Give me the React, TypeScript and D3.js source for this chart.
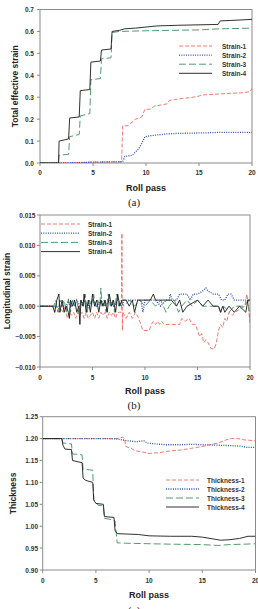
import React from "react";
import * as d3 from "d3";

type Pt = [number, number];

// ---- (a) total effective strain vs roll pass ----
const strainTotal1: Pt[] = [[0,0],[3,0],[5,0.004],[7,0.005],[7.7,0.005],[7.8,0.17],[8.3,0.17],[8.5,0.18],[8.8,0.19],[9.0,0.2],[9.4,0.205],[9.6,0.21],[9.9,0.245],[10.4,0.245],[10.8,0.26],[11.5,0.265],[12,0.27],[12.2,0.285],[12.8,0.29],[13.5,0.295],[14.2,0.298],[15,0.305],[15.2,0.31],[16,0.312],[17,0.315],[18,0.318],[19,0.32],[19.8,0.325],[20,0.34]];
const strainTotal2: Pt[] = [[0,0],[3,0.001],[5,0.004],[7,0.005],[7.8,0.006],[8,0.03],[8.7,0.035],[9.0,0.05],[9.3,0.065],[9.6,0.09],[9.9,0.12],[10.5,0.125],[11.5,0.13],[12,0.133],[13,0.135],[15,0.137],[16,0.138],[17,0.14],[20,0.14]];
const strainTotal3: Pt[] = [[0,0],[1.75,0],[1.8,0.035],[2.7,0.04],[2.8,0.12],[3.7,0.13],[3.8,0.215],[4.7,0.225],[4.8,0.38],[5.7,0.385],[5.8,0.475],[6.7,0.48],[6.8,0.595],[7.5,0.6],[10,0.603],[15,0.607],[17,0.612],[20,0.615]];
const strainTotal4: Pt[] = [[0,0],[1.75,0],[1.8,0.1],[2.7,0.11],[2.8,0.205],[3.7,0.21],[3.8,0.33],[4.7,0.335],[4.8,0.46],[5.7,0.465],[5.8,0.515],[6.7,0.52],[6.8,0.6],[7.5,0.605],[8,0.612],[9,0.615],[10,0.62],[11,0.625],[13,0.628],[16.8,0.632],[17,0.648],[18,0.65],[20,0.655]];

// ---- (b) longitudinal strain vs roll pass ----
const strainLong1: Pt[] = [[0,0],[1.3,0],[1.4,-0.001],[1.6,0],[1.8,-0.001],[2.0,-0.0005],[2.2,-0.001],[2.4,0],[2.6,-0.002],[2.8,-0.001],[3.0,-0.0015],[3.2,-0.001],[3.4,-0.002],[3.6,-0.001],[3.8,-0.0015],[4.0,-0.001],[4.2,-0.002],[4.4,-0.001],[4.6,-0.002],[4.8,-0.0015],[5.0,-0.001],[5.2,-0.002],[5.4,-0.001],[5.6,-0.002],[5.8,-0.001],[6.0,-0.0015],[6.2,-0.001],[6.4,-0.002],[6.6,-0.001],[6.8,-0.0015],[7.0,-0.001],[7.2,-0.002],[7.4,-0.001],[7.6,-0.001],[7.75,-0.001],[7.8,0.012],[7.85,-0.004],[7.9,-0.001],[8.2,-0.002],[8.5,-0.001],[8.8,-0.002],[9.1,-0.001],[9.4,-0.002],[9.6,-0.003],[9.8,-0.004],[10.0,-0.004],[10.4,-0.004],[10.6,-0.003],[10.8,-0.0025],[11.0,-0.003],[11.2,-0.0025],[11.4,-0.003],[11.6,-0.0025],[11.8,-0.003],[12.5,-0.003],[13.3,-0.003],[13.5,-0.002],[13.8,-0.0025],[14.2,-0.002],[14.5,-0.003],[14.8,-0.003],[15.0,-0.004],[15.2,-0.005],[15.4,-0.0045],[15.6,-0.006],[15.8,-0.0055],[16.0,-0.006],[16.3,-0.007],[16.6,-0.007],[16.8,-0.006],[17.0,-0.004],[17.2,-0.003],[17.4,-0.0035],[17.6,-0.002],[17.8,-0.0025],[18.0,-0.001],[18.3,-0.0015],[18.6,-0.001],[19.0,-0.0005],[19.5,0],[19.7,0.002],[19.85,0],[20,-0.003]];
const strainLong2: Pt[] = [[0,0],[2.5,0],[2.7,0.001],[2.9,0],[3.1,0.001],[3.3,0],[3.5,0.001],[3.8,0],[4.2,0.001],[4.6,0],[5,0.001],[5.4,0],[5.8,0.001],[6.2,0],[6.6,0.001],[7,0],[7.4,0.001],[7.8,0],[8,0.001],[8.5,0.001],[9,0.001],[9.6,0.001],[9.8,-0.001],[10,0.001],[10.5,0.001],[11,0.001],[11.5,0],[12,0.001],[12.3,0.001],[12.4,0.002],[12.6,0.001],[13,0.001],[13.3,0.002],[14,0.002],[14.3,0.001],[14.6,0.002],[15,0.002],[15.5,0.0025],[15.8,0.003],[16.0,0.0025],[16.5,0.002],[17.0,0.002],[17.3,0.001],[17.6,0.001],[17.9,0.002],[18.2,0.002],[18.5,0.001],[19,0.001],[19.5,0.001],[20,0.001]];
const strainLong3: Pt[] = [[0,0],[1.3,0],[1.5,0.001],[1.7,-0.001],[1.9,0.001],[2.1,0],[2.3,0.001],[2.5,-0.001],[2.7,0.001],[2.9,-0.001],[3.1,0.001],[3.3,0],[3.5,0.001],[3.7,-0.001],[3.9,0.001],[4.1,0],[4.3,0.002],[4.5,-0.001],[4.7,0.001],[4.9,0],[5.1,0.002],[5.3,0],[5.5,0.001],[5.7,0],[5.8,0.003],[5.9,0],[6.1,0.001],[6.3,-0.001],[6.5,0.002],[6.7,0],[6.9,0.001],[7.1,-0.001],[7.3,0.002],[7.5,0],[7.7,0.001],[8,0],[8.5,0.001],[9,0],[9.5,0.001],[10,0],[10.5,0.001],[11,0],[11.5,0.001],[12,-0.001],[12.3,0],[12.8,0.001],[13.2,-0.001],[13.5,0],[14,0.001],[14.5,0],[15,0.001],[15.5,0],[16,0],[16.5,0],[17,0],[17.2,-0.001],[17.5,0],[18,-0.001],[18.5,0],[19,0],[19.5,0],[19.8,0.001],[20,-0.002]];
const strainLong4: Pt[] = [[0,0],[1.2,0],[1.4,-0.001],[1.6,0.001],[1.8,0.002],[1.9,-0.001],[2.1,0.001],[2.3,-0.001],[2.5,0],[2.7,-0.001],[2.8,-0.002],[2.9,0.001],[3.1,0],[3.3,0.001],[3.5,-0.001],[3.7,0],[3.8,-0.003],[3.9,0.001],[4.1,0],[4.2,0.002],[4.4,-0.001],[4.6,0.001],[4.8,-0.001],[5.0,0.002],[5.2,0],[5.4,0.001],[5.6,-0.001],[5.8,0.001],[6.0,0],[6.2,0.001],[6.4,-0.001],[6.6,0.002],[6.8,0],[7.0,0.001],[7.2,-0.001],[7.4,0.002],[7.6,0],[7.8,0.001],[8.2,0.001],[8.5,0],[8.8,0.001],[9.0,-0.001],[9.3,0.001],[10.5,0.001],[10.8,0.002],[11,0.001],[12,0.001],[12.5,0.001],[13,0],[13.3,0.001],[13.6,-0.001],[14,0],[15,0.001],[15.5,0],[16,0.001],[16.5,0],[17,0],[17.2,-0.001],[17.4,0],[17.6,-0.001],[18,0],[18.5,-0.001],[19,0],[19.6,-0.001],[19.8,0.001],[20,0.001]];

// ---- (c) thickness vs roll pass ----
const thickness1: Pt[] = [[0,1.2],[7,1.2],[7.5,1.203],[7.7,1.2],[7.8,1.182],[8.3,1.178],[8.7,1.172],[9.3,1.17],[10,1.166],[11,1.168],[12,1.172],[13,1.174],[14,1.178],[15,1.182],[15.7,1.186],[16.5,1.19],[17,1.195],[17.6,1.2],[18.3,1.2],[19,1.197],[20,1.195]];
const thickness2: Pt[] = [[0,1.2],[6,1.2],[7,1.199],[7.5,1.197],[8,1.195],[8.8,1.193],[9.5,1.195],[9.8,1.19],[10.5,1.188],[11.5,1.186],[13,1.186],[14,1.187],[15,1.186],[16.5,1.185],[17.5,1.184],[18.5,1.183],[19.2,1.18],[20,1.18]];
const thickness3: Pt[] = [[0,1.2],[1.8,1.2],[1.9,1.19],[2.7,1.188],[2.8,1.165],[3.7,1.163],[3.8,1.13],[4.7,1.128],[4.8,1.06],[5.2,1.048],[5.7,1.046],[5.8,1.018],[6.7,1.014],[6.8,1.012],[7.0,0.962],[8,0.961],[10,0.96],[12,0.959],[15,0.958],[16.5,0.956],[17.5,0.958],[19,0.959],[20,0.96]];
const thickness4: Pt[] = [[0,1.2],[1.8,1.2],[1.9,1.185],[2.1,1.176],[2.7,1.175],[2.8,1.15],[3.7,1.145],[3.8,1.11],[4.0,1.105],[4.7,1.1],[4.8,1.06],[5.0,1.052],[5.7,1.05],[5.8,1.022],[6.7,1.02],[6.8,0.99],[7.0,0.983],[8,0.982],[9,0.981],[10,0.978],[12,0.977],[14,0.977],[15,0.975],[16,0.971],[16.7,0.968],[17.5,0.969],[18.5,0.972],[19.3,0.977],[20,0.977]];

const xTicks = [0, 5, 10, 15, 20];
const yTicksA = [0, 0.1, 0.2, 0.3, 0.4, 0.5, 0.6, 0.7];
const yTicksB = [-0.01, -0.005, 0, 0.005, 0.01, 0.015];
const yTicksC = [0.9, 0.95, 1.0, 1.05, 1.1, 1.15, 1.2, 1.25];

const namesStrain = ["Strain-1", "Strain-2", "Strain-3", "Strain-4"];
const namesThick = ["Thickness-1", "Thickness-2", "Thickness-3", "Thickness-4"];

const seriesStyles = [
  { color: "#ee6a62", dash: "4,2", width: 0.9 },
  { color: "#2f4fb0", dash: "1,1.3", width: 1.3 },
  { color: "#3f8f60", dash: "7,3", width: 0.9 },
  { color: "#1a1a1a", dash: "", width: 0.9 },
];

const FONT = "Arial, 'Liberation Sans', sans-serif";

interface PanelProps {
  x0: number; x1: number; yTop: number; yBot: number;
  yDomain: [number, number]; yTicks: number[]; yFmt: (v: number) => string;
  series: Pt[][]; names: string[];
  yTitle: string; yTitleX: number; tickLabelX: number;
  xLabelY: number; xTitleY: number;
  legend: { lx0: number; lx1: number; tx: number; y0: number; dy: number };
  caption: string; captionY: number;
}

function Panel(p: PanelProps) {
  const x = d3.scaleLinear().domain([0, 20]).range([p.x0, p.x1]);
  const y = d3.scaleLinear().domain(p.yDomain).range([p.yBot, p.yTop]);
  const line = d3.line<Pt>().x((d) => x(d[0])).y((d) => y(d[1]));
  const midY = (p.yTop + p.yBot) / 2;
  const midX = (p.x0 + p.x1) / 2;
  return (
    <g>
      <defs>
        <clipPath id={`clip-${p.caption}`}>
          <rect x={p.x0} y={p.yTop} width={p.x1 - p.x0} height={p.yBot - p.yTop} />
        </clipPath>
      </defs>
      <rect x={p.x0} y={p.yTop} width={p.x1 - p.x0} height={p.yBot - p.yTop} fill="none" stroke="#8a8a8a" strokeWidth={1} />
      {xTicks.map((t) => (
        <g key={`xt${t}`}>
          <line x1={x(t)} x2={x(t)} y1={p.yBot} y2={p.yBot + 3} stroke="#8a8a8a" />
          <text x={x(t)} y={p.xLabelY} textAnchor="middle" dominantBaseline="central" fontFamily={FONT} fontWeight="bold" fontSize={6.5} fill="#333">{t}</text>
        </g>
      ))}
      {p.yTicks.map((t) => (
        <g key={`yt${t}`}>
          <line x1={p.x0 - 3} x2={p.x0} y1={y(t)} y2={y(t)} stroke="#8a8a8a" />
          <text x={p.tickLabelX} y={y(t)} textAnchor="end" dominantBaseline="central" fontFamily={FONT} fontWeight="bold" fontSize={6.5} fill="#333">{p.yFmt(t)}</text>
        </g>
      ))}
      <g clipPath={`url(#clip-${p.caption})`}>
        {p.series.map((s, i) => (
          <path key={i} d={line(s) || ""} fill="none" stroke={seriesStyles[i].color} strokeWidth={seriesStyles[i].width} strokeDasharray={seriesStyles[i].dash} />
        ))}
      </g>
      {p.names.map((n, i) => {
        const ly = p.legend.y0 + i * p.legend.dy;
        return (
          <g key={n}>
            <line x1={p.legend.lx0} x2={p.legend.lx1} y1={ly} y2={ly} stroke={seriesStyles[i].color} strokeWidth={seriesStyles[i].width} strokeDasharray={seriesStyles[i].dash} />
            <text x={p.legend.tx} y={ly} dominantBaseline="central" fontFamily={FONT} fontWeight="bold" fontSize={6.5} fill="#333">{n}</text>
          </g>
        );
      })}
      <text x={midX} y={p.xTitleY} textAnchor="middle" dominantBaseline="central" fontFamily={FONT} fontWeight="bold" fontSize={9} fill="#222">Roll pass</text>
      <text transform={`translate(${p.yTitleX},${midY}) rotate(-90)`} textAnchor="middle" dominantBaseline="central" fontFamily={FONT} fontWeight="bold" fontSize={8.5} fill="#222">{p.yTitle}</text>
      <text x={134} y={p.captionY} textAnchor="middle" dominantBaseline="central" fontFamily="'Liberation Serif', 'DejaVu Serif', serif" fontSize={11} fill="#222">{`(${p.caption})`}</text>
    </g>
  );
}

export default function App() {
  return (
    <svg width={258} height={609} style={{ position: "absolute", left: 0, top: 0, background: "#fff" }}>
      <Panel
        x0={40} x1={252} yTop={9.5} yBot={163}
        yDomain={[0, 0.7]} yTicks={yTicksA} yFmt={(v) => d3.format(".1f")(v)}
        series={[strainTotal1, strainTotal2, strainTotal3, strainTotal4]} names={namesStrain}
        yTitle="Total effective strain" yTitleX={15} tickLabelX={34}
        xLabelY={172} xTitleY={188}
        legend={{ lx0: 179, lx1: 212, tx: 222, y0: 46, dy: 9.1 }}
        caption="a" captionY={202}
      />
      <Panel
        x0={40} x1={250} yTop={215} yBot={367}
        yDomain={[-0.01, 0.015]} yTicks={yTicksB} yFmt={(v) => d3.format(".3f")(v)}
        series={[strainLong1, strainLong2, strainLong3, strainLong4]} names={namesStrain}
        yTitle="Longitudinal  strain" yTitleX={7} tickLabelX={35.5}
        xLabelY={377} xTitleY={391}
        legend={{ lx0: 41, lx1: 80, tx: 88, y0: 224, dy: 9.2 }}
        caption="b" captionY={405}
      />
      <Panel
        x0={42.7} x1={255.5} yTop={416.7} yBot={570}
        yDomain={[0.9, 1.25]} yTicks={yTicksC} yFmt={(v) => d3.format(".2f")(v)}
        series={[thickness1, thickness2, thickness3, thickness4]} names={namesThick}
        yTitle="Thickness" yTitleX={12.7} tickLabelX={38}
        xLabelY={580} xTitleY={595}
        legend={{ lx0: 166, lx1: 199, tx: 207, y0: 480, dy: 9 }}
        caption="c" captionY={610}
      />
    </svg>
  );
}
